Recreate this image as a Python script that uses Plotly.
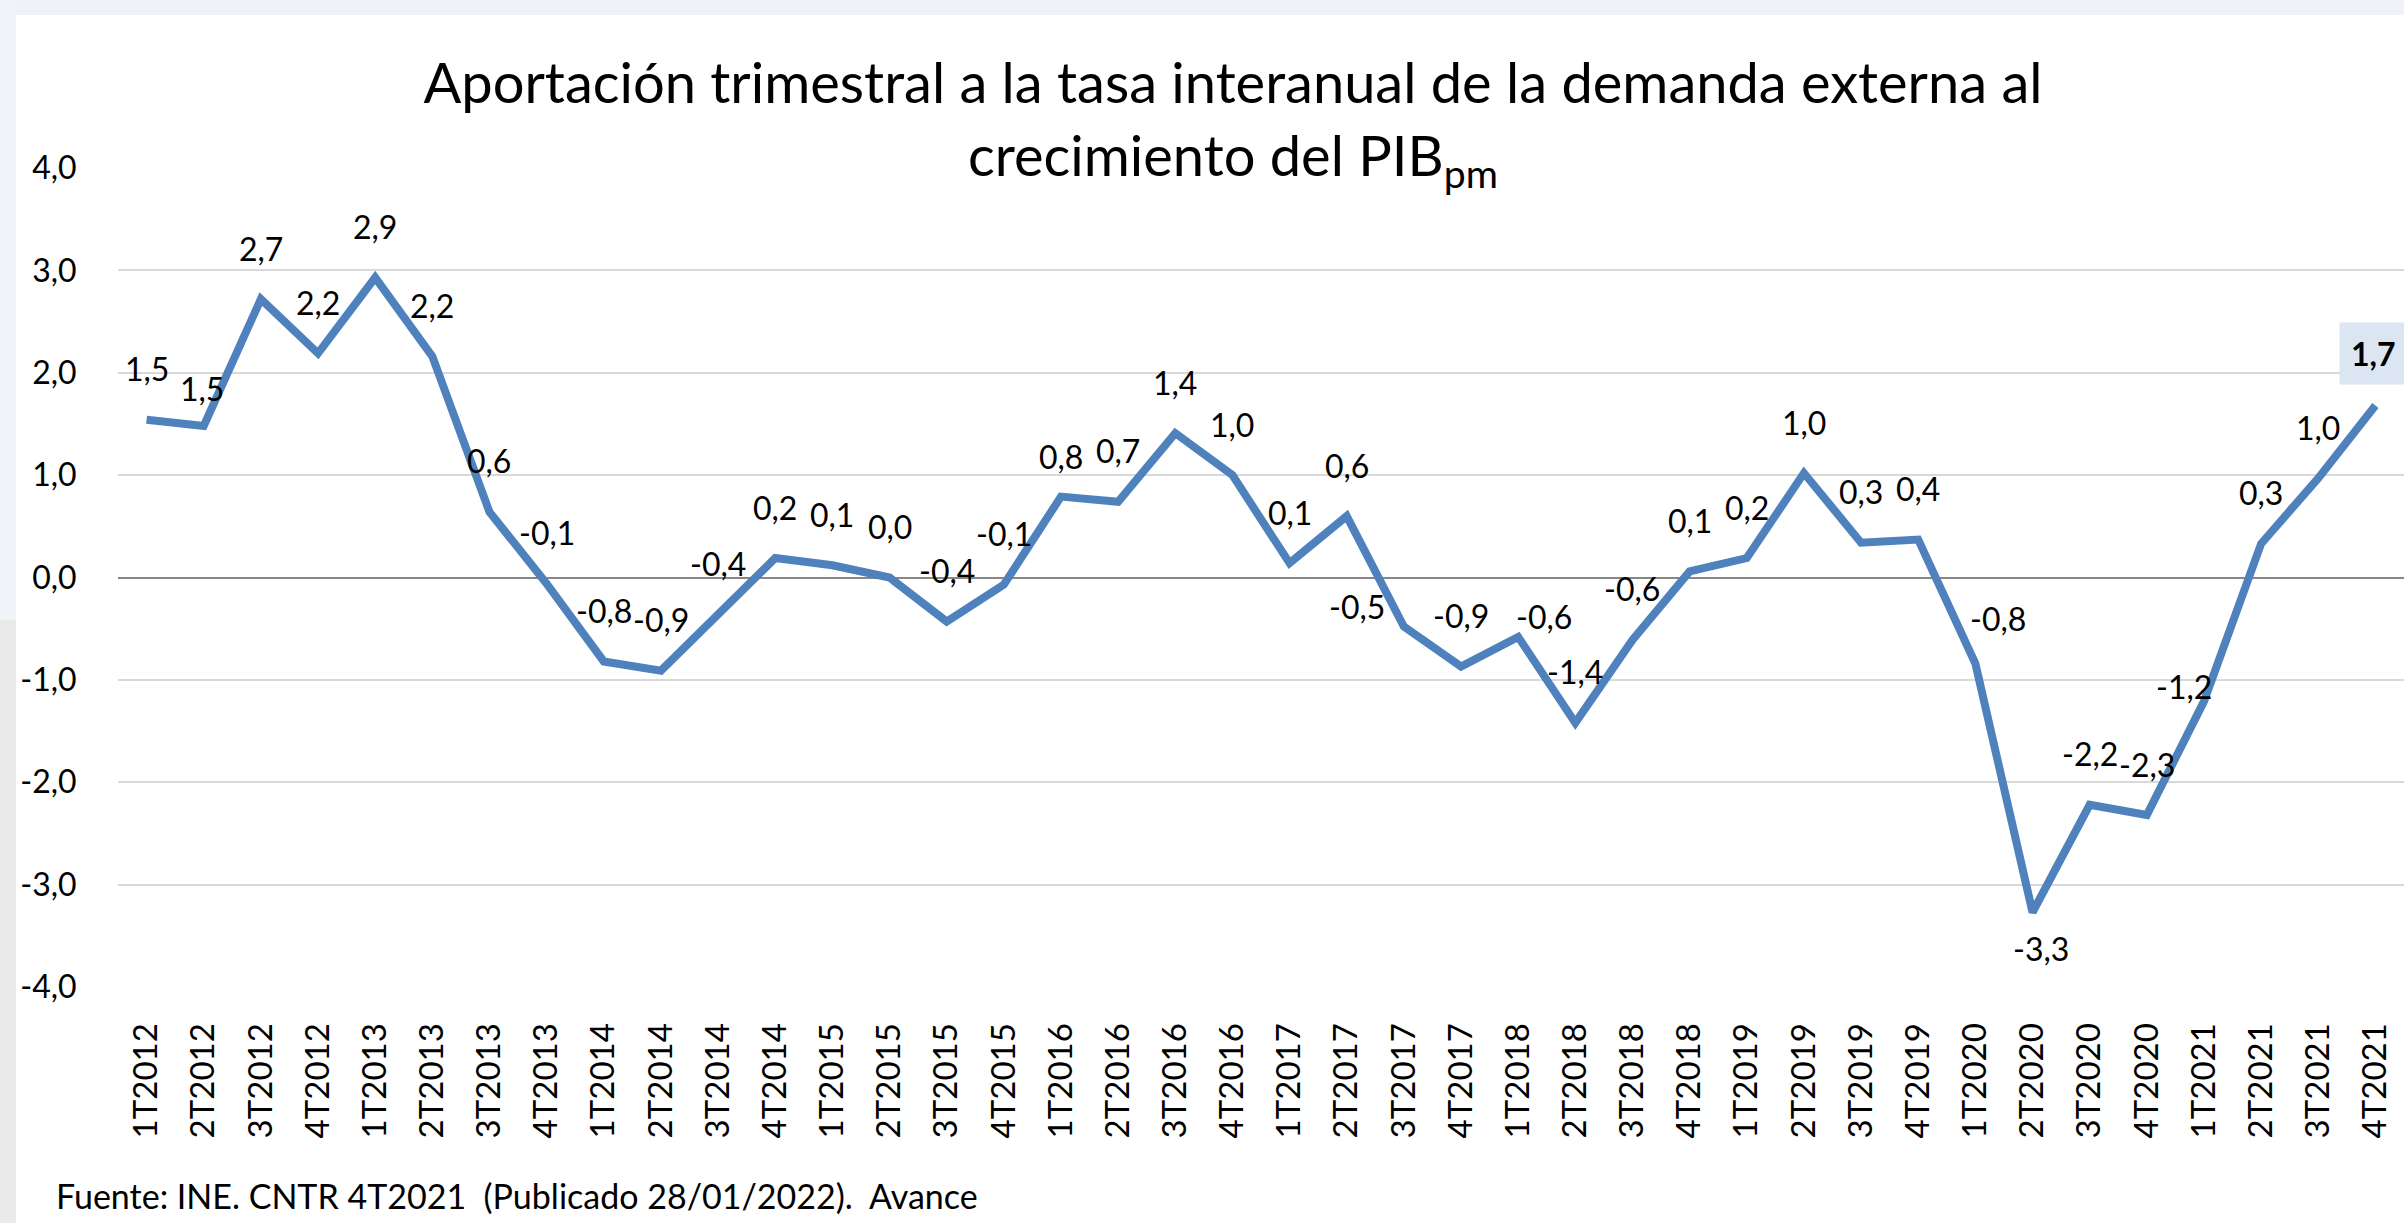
import plotly.graph_objects as go

# ---------------- data ----------------
quarters = [
    "1T2012", "2T2012", "3T2012", "4T2012",
    "1T2013", "2T2013", "3T2013", "4T2013",
    "1T2014", "2T2014", "3T2014", "4T2014",
    "1T2015", "2T2015", "3T2015", "4T2015",
    "1T2016", "2T2016", "3T2016", "4T2016",
    "1T2017", "2T2017", "3T2017", "4T2017",
    "1T2018", "2T2018", "3T2018", "4T2018",
    "1T2019", "2T2019", "3T2019", "4T2019",
    "1T2020", "2T2020", "3T2020", "4T2020",
    "1T2021", "2T2021", "3T2021", "4T2021",
]
aportacion = [
    1.54, 1.48, 2.72, 2.19,
    2.93, 2.16, 0.64, -0.06,
    -0.82, -0.91, -0.36, 0.19,
    0.12, 0.00, -0.43, -0.07,
    0.79, 0.74, 1.41, 1.00,
    0.14, 0.60, -0.48, -0.87,
    -0.58, -1.42, -0.61, 0.06,
    0.19, 1.02, 0.34, 0.37,
    -0.84, -3.27, -2.22, -2.32,
    -1.21, 0.33, 0.97, 1.68,
]
ytick_vals = [-4, -3, -2, -1, 0, 1, 2, 3, 4]
ytick_text = ["-4,0", "-3,0", "-2,0", "-1,0", "0,0", "1,0", "2,0", "3,0", "4,0"]

title_text = ("Aportación trimestral a la tasa interanual de la demanda externa al"
              "<br>crecimiento del PIB<sub>pm</sub>")
source_text = "Fuente: INE. CNTR 4T2021 \u00a0(Publicado 28/01/2022). \u00a0Avance"

# ---------------- style ----------------
FONT = "Lato, 'Open Sans', Arial, sans-serif"
LINE_COLOR = "#4f81bd"
W, H = 2404, 1223
ML, MR, MT, MB = 118, 0, 168, 236

# label offsets (pixels) for data labels; default above the point
default_shift = (0, 51)
label_shift = {
    1: (-2, 37),
    16: (0, 40),
    22: (-47, 20),
    24: (26, 20),
    32: (23, 45),
    33: (8, -36),
    36: (-20, 15),
}
last_idx = len(aportacion) - 1


def fmt(v):
    return f"{v:.1f}".replace(".", ",")


fig = go.Figure()
fig.add_trace(go.Scatter(
    x=quarters, y=aportacion, mode="lines",
    line=dict(color=LINE_COLOR, width=8),
    hoverinfo="skip", showlegend=False,
))

annotations = []
for i, (q, v) in enumerate(zip(quarters, aportacion)):
    if i == last_idx:
        annotations.append(dict(
            x=q, y=v, xref="x", yref="y", text="<b>" + fmt(v) + "</b>",
            showarrow=False, xshift=-2, yshift=52,
            font=dict(family=FONT, size=32, color="#000000"),
            bgcolor="#dce6f2", borderpad=11,
        ))
        continue
    dx, dy = label_shift.get(i, default_shift)
    annotations.append(dict(
        x=q, y=v, xref="x", yref="y", text=fmt(v), showarrow=False,
        xshift=dx, yshift=dy,
        font=dict(family=FONT, size=32, color="#000000"),
    ))

pw = W - ML - MR
ph = H - MT - MB


def px_x(p):
    return (p - ML) / pw


def px_y(p):
    return (H - MB - p) / ph


annotations.append(dict(
    x=px_x(54), y=px_y(1218), xref="paper", yref="paper",
    xanchor="left", yanchor="bottom", text=source_text, showarrow=False,
    font=dict(family=FONT, size=34, color="#000000"),
))

shapes = [
    dict(type="rect", xref="paper", yref="paper", layer="below",
         x0=px_x(0), x1=px_x(W), y0=px_y(15), y1=px_y(0),
         fillcolor="#eff2f7", line=dict(width=0)),
    dict(type="rect", xref="paper", yref="paper", layer="below",
         x0=px_x(0), x1=px_x(16), y0=px_y(620), y1=px_y(0),
         fillcolor="#f1f4f8", line=dict(width=0)),
    dict(type="rect", xref="paper", yref="paper", layer="below",
         x0=px_x(0), x1=px_x(16), y0=px_y(H), y1=px_y(620),
         fillcolor="#ebeaea", line=dict(width=0)),
]

fig.update_layout(
    width=W, height=H,
    margin=dict(l=ML, r=MR, t=MT, b=MB, pad=0),
    paper_bgcolor="#ffffff", plot_bgcolor="rgba(0,0,0,0)",
    font=dict(family=FONT, color="#000000"),
    title=dict(
        text=title_text, x=1233 / W, xanchor="center",
        y=1 - 103 / H, yanchor="top", yref="container",
        font=dict(family=FONT, size=56, color="#000000"),
    ),
    xaxis=dict(
        type="category", range=[-0.5, len(quarters) - 0.5],
        showgrid=False, zeroline=False, showline=False,
        tickangle=-90, ticks="outside", ticklen=22,
        tickcolor="rgba(0,0,0,0)",
        tickfont=dict(family=FONT, size=33, color="#000000"),
        fixedrange=True,
    ),
    yaxis=dict(
        range=[-4, 4], tickvals=ytick_vals, ticktext=ytick_text,
        showgrid=True, gridcolor="#d9d9d9", gridwidth=2,
        zeroline=True, zerolinecolor="#878787", zerolinewidth=2,
        showline=False, ticks="outside", ticklen=34,
        tickcolor="rgba(0,0,0,0)",
        tickfont=dict(family=FONT, size=32, color="#000000"),
        fixedrange=True,
    ),
    annotations=annotations,
    shapes=shapes,
    showlegend=False,
)

fig.write_html(
    "out.html",
    config={"displayModeBar": False},
    post_script="document.body.style.margin='0';document.body.style.overflow='hidden';",
)
